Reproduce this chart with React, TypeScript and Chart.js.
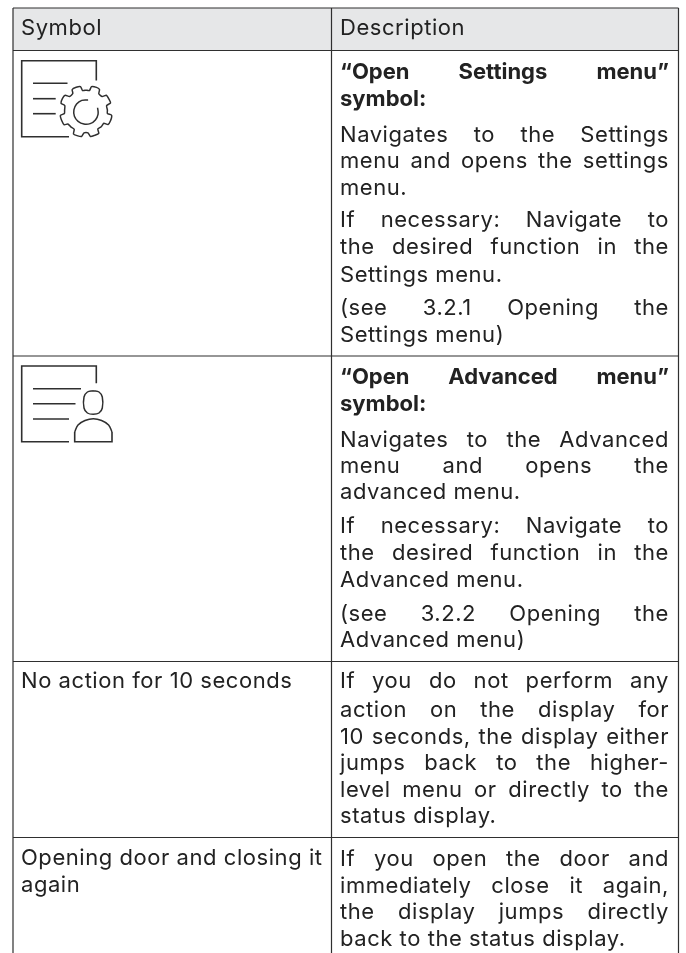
import React, { useEffect, useRef } from "react";
import { Chart, registerables } from "chart.js";

Chart.register(...registerables);

const WIDTH = 686;
const HEIGHT = 953;
const FONT = "Inter, sans-serif";
const FONT_SIZE = 22;
const LETTER_SPACING = 0.55;
const BOLD_LETTER_SPACING = 0;
const TEXT_COLOR = "#222222";
const RULE_COLOR = "#2f2f2f";
const HEADER_FILL = "#e6e7e8";

const columnEdges = [13, 331.5, 678.5];
const rowEdges = [8, 50.5, 356, 661.5, 837.5];
const tableBottom = 953;

const headerLabels = ["Symbol", "Description"];
const headerBaseline = 35;
const leftTextX = 21;
const rightTextX = 340;
const rightTextEnd = 669;

const symbolLabels = ["No action for 10 seconds", "Opening door and closing it", "again"];
const symbolBaselines = [688, 865, 892];

const boldLines = ["\u201cOpen Settings menu\u201d", "symbol:", "\u201cOpen Advanced menu\u201d", "symbol:"];
const boldBaselines = [79, 106, 384, 411];
const boldJustified = [true, false, true, false];

const descriptionLines = [
  "Navigates to the Settings",
  "menu and opens the settings",
  "menu.",
  "If necessary: Navigate to",
  "the desired function in the",
  "Settings menu.",
  "(see 3.2.1 Opening the",
  "Settings menu)",
  "Navigates to the Advanced",
  "menu and opens the",
  "advanced menu.",
  "If necessary: Navigate to",
  "the desired function in the",
  "Advanced menu.",
  "(see 3.2.2 Opening the",
  "Advanced menu)",
  "If you do not perform any",
  "action on the display for",
  "10 seconds, the display either",
  "jumps back to the higher-",
  "level menu or directly to the",
  "status display.",
  "If you open the door and",
  "immediately close it again,",
  "the display jumps directly",
  "back to the status display.",
];
const descriptionBaselines = [
  142, 168, 195, 227, 254, 282, 315, 342, 447, 473, 499, 533, 560, 587, 621, 647, 688, 717, 744, 770, 797, 823,
  866, 893, 919, 946,
];
const descriptionJustified = [
  true, true, false, true, true, false, true, false, true, true, false, true, true, false, true, false, true, true,
  true, true, true, false, true, true, true, false,
];

type P = { x: number; y: number };
const pts = (a: number[][]): P[] => a.map(([x, y]) => ({ x, y }));

const settingsFrame = [[96.3, 80.5], [96.3, 60.7], [21.7, 60.7], [21.7, 136.7], [69, 136.7]];
const settingsBars = [
  [[33, 83.3], [67.5, 83.3]],
  [[33, 98.7], [55.7, 98.7]],
  [[33, 113.7], [55.7, 113.7]],
];
const gearOutline = [
  [86, 90.2], [89.5, 90.5], [91.5, 86.6], [96.5, 87.4], [99.5, 89.5], [98.8, 93.8], [102.2, 96.5], [106.3, 95.2],
  [109, 99.2], [110.5, 103], [106.6, 105.6], [107.4, 110], [107.4, 113.5], [111.6, 115.2], [110.6, 120.5], [108, 124.5],
  [103.8, 123.2], [101.2, 126.8], [97.8, 129], [98.8, 133.4], [94.5, 135.4], [90.5, 136.5], [88, 132.8], [84, 132.8],
  [81.5, 136.5], [77, 135.6], [73.5, 134], [74.2, 129.2], [70.8, 126.8], [67.8, 124], [64.2, 124.8], [61.8, 120.8],
  [60.4, 115.5], [64.4, 113.5], [64.6, 110], [64.8, 105.6], [61, 103.2], [62.5, 98.4], [65.2, 95.2], [69.6, 96.5],
  [72.8, 93.5], [72.2, 89.5], [76.2, 87.2], [80.5, 86.6], [82.5, 90.5], [86, 90.2],
];
const gearCore = [
  [88.1, 99.9], [81.8, 100.4], [76.6, 104.1], [73.9, 109.9], [74.4, 116.2], [78.1, 121.4], [83.9, 124.1],
  [90.2, 123.6], [95.4, 119.9], [98.1, 114.1], [97.6, 107.8],
];

const advancedFrame = [[96.3, 383.3], [96.3, 366], [21.7, 366], [21.7, 441.7], [69, 441.7]];
const advancedBars = [
  [[33, 388.7], [81, 388.7]],
  [[33, 403.7], [75.5, 403.7]],
  [[33, 419], [69, 419]],
];
const personHead = [
  [93.2, 390.7], [99, 392], [102.3, 397], [102.3, 408], [99, 413], [93.2, 414.3], [87.4, 413], [84, 408],
  [84, 397], [87.4, 392], [93.2, 390.7],
];
const personDome = [[74.7, 432], [78, 425], [85, 420.5], [93.3, 418.7], [101.6, 420.5], [108.6, 425], [112, 432]];
const personBase = [[74.7, 432], [74.7, 441.7], [112, 441.7], [112, 432]];

function lineSet(points: number[][], width = 1.6, tension = 0) {
  return {
    data: pts(points),
    borderColor: RULE_COLOR,
    borderWidth: width,
    pointRadius: 0,
    tension,
    fill: false,
    showLine: true,
  };
}

function drawText(
  ctx: CanvasRenderingContext2D,
  text: string,
  x: number,
  y: number,
  weight: number,
  justifyEnd?: number,
) {
  ctx.font = `${weight} ${FONT_SIZE}px ${FONT}`;
  (ctx as any).letterSpacing = `${weight > 500 ? BOLD_LETTER_SPACING : LETTER_SPACING}px`;
  (ctx as any).wordSpacing = "0px";
  if (justifyEnd !== undefined) {
    const gaps = text.split(" ").length - 1;
    if (gaps > 0) {
      const extra = (justifyEnd - x - ctx.measureText(text).width) / gaps;
      (ctx as any).wordSpacing = `${extra}px`;
    }
  }
  ctx.fillText(text, x, y);
  (ctx as any).wordSpacing = "0px";
  (ctx as any).letterSpacing = "0px";
}

const tableText = {
  id: "tableText",
  afterDatasetsDraw(chart: any) {
    const { ctx, scales } = chart;
    const sx = scales.x;
    const sy = scales.y;
    const left = sx.getPixelForValue(leftTextX);
    const right = sx.getPixelForValue(rightTextX);
    const end = sx.getPixelForValue(rightTextEnd);
    ctx.save();
    ctx.fillStyle = TEXT_COLOR;
    ctx.textBaseline = "alphabetic";
    ctx.textAlign = "left";
    drawText(ctx, headerLabels[0], left, sy.getPixelForValue(headerBaseline), 400);
    drawText(ctx, headerLabels[1], right, sy.getPixelForValue(headerBaseline), 400);
    symbolLabels.forEach((t, i) => drawText(ctx, t, left, sy.getPixelForValue(symbolBaselines[i]), 400));
    boldLines.forEach((t, i) =>
      drawText(ctx, t, right, sy.getPixelForValue(boldBaselines[i]), 700, boldJustified[i] ? end : undefined),
    );
    descriptionLines.forEach((t, i) =>
      drawText(ctx, t, right, sy.getPixelForValue(descriptionBaselines[i]), 400, descriptionJustified[i] ? end : undefined),
    );
    ctx.restore();
  },
};

export default function App() {
  const ref = useRef<HTMLCanvasElement>(null);
  useEffect(() => {
    if (!ref.current) return;
    const [cl, , cr] = columnEdges;
    const datasets: any[] = [
      ...rowEdges.map((y) => lineSet([[cl, y], [cr, y]], 1.2)),
      ...columnEdges.map((x) => lineSet([[x, rowEdges[0]], [x, tableBottom]], 1.2)),
      lineSet(settingsFrame),
      ...settingsBars.map((b) => lineSet(b)),
      lineSet(gearOutline, 1.5, 0.2),
      lineSet(gearCore, 1.5, 0.4),
      lineSet(advancedFrame),
      ...advancedBars.map((b) => lineSet(b)),
      lineSet(personHead, 1.5, 0.35),
      lineSet(personDome, 1.5, 0.4),
      lineSet(personBase),
      {
        data: pts([[cl, rowEdges[0]], [cr, rowEdges[0]], [cr, rowEdges[1]], [cl, rowEdges[1]], [cl, rowEdges[0]]]),
        borderWidth: 0,
        pointRadius: 0,
        backgroundColor: HEADER_FILL,
        fill: "shape",
        showLine: true,
      },
    ];
    const chart = new Chart(ref.current, {
      type: "scatter",
      data: { datasets },
      options: {
        animation: false,
        responsive: false,
        devicePixelRatio: 1,
        layout: { padding: 0 },
        plugins: { legend: { display: false }, tooltip: { enabled: false }, title: { display: false } },
        scales: {
          x: { type: "linear", min: 0, max: WIDTH, display: false },
          y: { type: "linear", min: 0, max: HEIGHT, reverse: true, display: false },
        },
      },
      plugins: [tableText],
    } as any);
    return () => chart.destroy();
  }, []);
  return (
    <canvas
      ref={ref}
      width={WIDTH}
      height={HEIGHT}
      style={{ position: "absolute", left: 0, top: 0, width: WIDTH, height: HEIGHT, background: "#ffffff" }}
    />
  );
}
